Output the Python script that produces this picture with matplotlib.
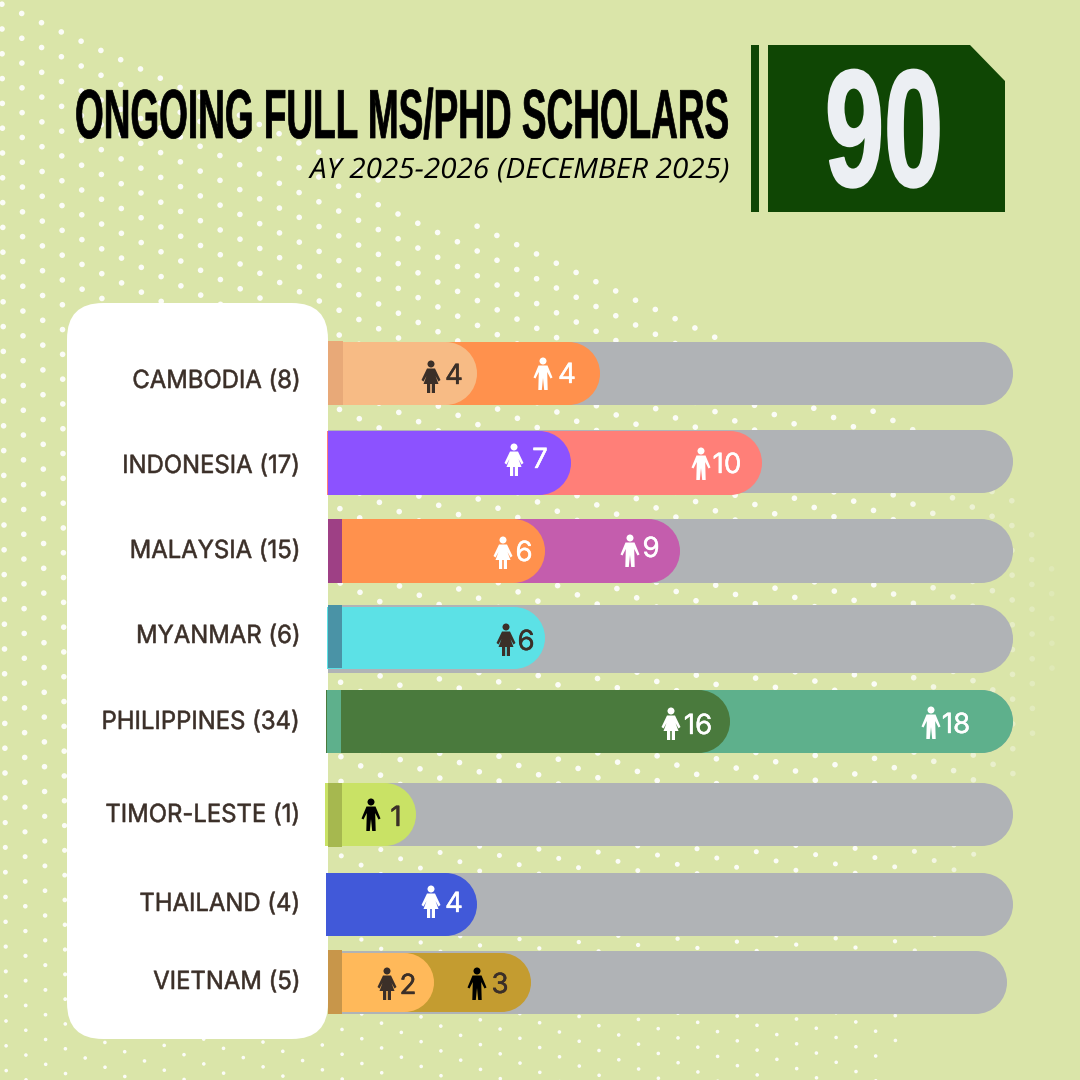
import numpy as np
import matplotlib
matplotlib.use("Agg")
import matplotlib.pyplot as plt
import matplotlib.patheffects as pe
from matplotlib.path import Path
from matplotlib.patches import PathPatch, Polygon, Circle, FancyBboxPatch, Rectangle
from matplotlib.transforms import Affine2D

# data
countries = ["CAMBODIA", "INDONESIA", "MALAYSIA", "MYANMAR", "PHILIPPINES", "TIMOR-LESTE", "THAILAND", "VIETNAM"]
first_counts = [4, 7, 6, 6, 16, 1, 4, 2]
second_counts = [4, 10, 9, 0, 18, 0, 0, 3]
first_gender = ["F", "F", "F", "F", "F", "M", "F", "F"]
second_gender = ["M", "M", "M", "M", "M", "M", "M", "M"]
title = "ONGOING FULL MS/PHD SCHOLARS"
subtitle = "AY 2025-2026 (DECEMBER 2025)"

# bar lengths in the picture are not proportional, so the x axis gets its own scale
scale_counts = np.array([0, 1, 2, 4, 5, 6, 7, 8, 15, 16, 17, 34])
scale_px = np.array([327, 416, 434, 477, 531, 545, 571, 600, 680, 730, 762, 1013])

# colours
BG = "#DAE5A9"
GRAY = "#B0B3B6"
DARK = "#3B2F28"
first_colors = ["#F7BB85", "#8C52FF", "#FF914D", "#5CE1E6", "#4A7A3D", "#C9E265", "#4159D9", "#FFB95A"]
second_colors = ["#FF914D", "#FF7F78", "#C45DAD", None, "#5EB08C", None, None, "#C49C30"]
strip_colors = ["#E8A978", "#FF7F78", "#9E4085", "#4A93A6", "#5EB08C", "#A6B84F", None, "#C8964A"]
first_icon_colors = [DARK, "white", "white", DARK, "white", "black", "white", DARK]
second_icon_colors = ["white", "white", "white", None, "white", None, None, "black"]
first_text_colors = [DARK, "white", "white", DARK, "white", DARK, "white", DARK]
second_text_colors = ["white", "white", "white", None, "white", None, None, DARK]

# layout, pixels from top left
track_top = [342, 430, 519, 605, 690, 783, 873, 951]
track_bot = [405, 493, 583, 673, 753, 846, 936, 1014]
track_end = [1013, 1013, 1013, 1013, 1013, 1013, 1013, 1007]
fill_top = [342, 431, 519, 607, 690, 783, 873, 953]
fill_bot = [405, 495, 583, 669, 753, 846, 936, 1012]
fill_left = [328, 327, 328, 327, 326, 325, 326, 328]
strip_left = [328, 327, 328, 328, 327, 328, 328, 328]
strip_right = [343, 328, 342, 342, 341, 342, 328, 342]
strip_top = [341, 431, 519, 605, 690, 783, 873, 950]
strip_bot = [405, 495, 583, 668, 753, 847, 936, 1014]
label_base = [388, 473, 558, 643, 729, 822, 911, 989]
first_icon_gap = [46, 57, 42, 39, 59, 45, 46, 47]
first_text_gap = [23, 31, 21, 19, 32, 20, 23, 26]
second_icon_gap = [57, 61, 50, 0, 82, 0, 0, 54]
second_text_gap = [33, 35, 29, 0, 57, 0, 0, 31]
first_icon_y = [377, 460, 553, 640, 724, 815, 902, 984]
first_text_y = [374, 458, 551, 640, 724, 816, 902, 984]
second_icon_y = [374, 464, 551, 0, 723, 0, 0, 984]
second_text_y = [373, 463, 547, 0, 723, 0, 0, 983]

plt.rcParams["font.family"] = ["Inter", "DejaVu Sans"]
COND = ["Liberation Sans", "DejaVu Sans"]
SUB = ["Open Sans", "DejaVu Sans"]

fig = plt.figure(figsize=(10.8, 10.8), dpi=100, facecolor=BG)
renderer = fig.canvas.get_renderer()
ax_px = fig.add_axes([0, 0, 1, 1], zorder=0)
ax_px.set_xlim(0, 1080)
ax_px.set_ylim(1080, 0)
ax_px.axis("off")

ax = fig.add_axes([327 / 1080, 0, (1013 - 327) / 1080, 1], zorder=1)
ax.set_xscale("function", functions=(lambda v: np.interp(v, scale_counts, scale_px),
                                     lambda v: np.interp(v, scale_px, scale_counts)))
ax.set_xlim(0, 34)
ax.set_ylim(1080, 0)
ax.axis("off")
ax.patch.set_alpha(0)


class Stretch(pe.AbstractPathEffect):
    # no condensed font here, so the glyphs get squeezed and thickened when drawn
    def __init__(self, x, y, sx, sy=1.0, lw=0.0):
        super().__init__()
        self.x, self.y, self.sx, self.sy, self.lw = x, 1080 - y, sx, sy, lw

    def draw_path(self, renderer, gc, tpath, affine, rgbFace=None):
        tr = affine + Affine2D().translate(-self.x, -self.y).scale(self.sx, self.sy).translate(self.x, self.y)
        gc0 = renderer.new_gc()
        gc0.copy_properties(gc)
        if self.lw > 0:
            gc0.set_foreground(rgbFace)
            gc0.set_linewidth(self.lw)
        else:
            gc0.set_linewidth(0)
        renderer.draw_path(gc0, tpath, tr, rgbFace)
        gc0.restore()


def fit_text(x, y, s, width, height_scale=1.0, lw=0.0, **kw):
    # x,y is the anchor on the baseline, width the wanted width in pixels
    t = ax_px.text(x, y, s, va="baseline", **kw)
    natural = t.get_window_extent(renderer).width
    t.set_path_effects([Stretch(x, y, width / natural, height_scale, lw)])
    return t


def count_px(v):
    return ax.transData.transform((v, 0))[0]


def capsule(target, x0, x1, top, bot, color, z):
    # square on the left, half round on the right
    r = (bot - top) / 2
    k = 0.5523 * r
    mid = (top + bot) / 2
    verts = [(x0, top), (x1 - r, top), (x1 - r + k, top), (x1, mid - k), (x1, mid),
             (x1, mid + k), (x1 - r + k, bot), (x1 - r, bot), (x0, bot), (x0, top)]
    codes = [Path.MOVETO, Path.LINETO, Path.CURVE4, Path.CURVE4, Path.CURVE4,
             Path.CURVE4, Path.CURVE4, Path.CURVE4, Path.LINETO, Path.CLOSEPOLY]
    target.add_patch(PathPatch(Path(verts, codes), fc=color, ec="none", zorder=z,
                               transform=ax_px.transData, clip_on=False))


MALE = [(-4.5, -8.5), (4.5, -8.5), (9.5, 3.5), (7.5, 4.5), (4.2, -2), (4.7, 16), (1.2, 16), (0, 4), (-1.2, 16),
        (-4.7, 16), (-4.2, -2), (-7.5, 4.5), (-9.5, 3.5)]
FEMALE = [(-4, -8.5), (4, -8.5), (9.5, 3), (7.5, 4.5), (4.5, -1), (7.5, 7), (4, 7), (4, 16), (0.8, 16),
          (0.8, 7), (-0.8, 7), (-0.8, 16), (-4, 16), (-4, 7), (-7.5, 7), (-4.5, -1), (-7.5, 4.5), (-9.5, 3)]


def person(cx, cy, gender, color):
    shape = MALE if gender == "M" else FEMALE
    pts = [(cx + a, cy + b) for a, b in shape]
    ax.add_patch(Polygon(pts, closed=True, fc=color, ec="none", zorder=8,
                         transform=ax_px.transData, clip_on=False))
    ax.add_patch(Circle((cx, cy - 13), 3.5, fc=color, ec="none", zorder=8,
                        transform=ax_px.transData, clip_on=False))


# halftone dots behind everything
blob = Path([(-5, -5), (21, 8), (180, 82), (440, 210), (616, 282), (716, 332), (840, 385), (940, 425),
             (1010, 490), (1065, 570), (1065, 660), (1010, 790), (965, 870), (905, 1020), (875, 1085),
             (-5, 1085)])
ii, jj = np.meshgrid(np.arange(-60, 60), np.arange(-60, 80))
dot_x = 2 + 19.8 * ii + 0.1 * jj
dot_y = 29 + 9.25 * ii + 24.8 * jj
keep = blob.contains_points(np.c_[dot_x.ravel(), dot_y.ravel()])
dot_x = dot_x.ravel()[keep]
dot_y = dot_y.ravel()[keep]
dot_d = 5.6 - 2.0 * np.clip((dot_y - 780) / 250, 0, 1)
dot_a = 0.92 - 0.8 * np.clip((dot_x - 880) / 180, 0, 1)
dot_col = np.ones((len(dot_x), 4))
dot_col[:, 3] = dot_a
ax_px.scatter(dot_x, dot_y, s=(dot_d * 0.72) ** 2, c=dot_col, linewidths=0, zorder=1)

# header
fit_text(75, 138, title, 653, height_scale=50 / 30, lw=0.5, family=COND, weight="bold", fontsize=30,
         color="black", ha="left", zorder=3)
fit_text(728, 178, subtitle, 418, family=SUB, style="italic", fontsize=20.2, color="black", ha="right", zorder=3)
ax_px.add_patch(Rectangle((751, 45), 8, 167, fc="#0F4604", ec="none", zorder=3))
ax_px.add_patch(Polygon([(768, 45), (970, 45), (1005, 81), (1005, 212), (768, 212)], closed=True,
                        fc="#0F4604", ec="none", zorder=3))
total = sum(first_counts) + sum(second_counts)
fit_text(884, 186, str(total), 118, height_scale=120 / 60, lw=1.5, family=COND, weight="bold", fontsize=60,
         color="#ECEFF3", ha="center", zorder=4)

# white panel with the country names
ax_px.add_patch(FancyBboxPatch((67 + 36, 303 + 36), 261 - 72, 736 - 72, boxstyle="round,pad=36",
                               fc="white", ec="none", zorder=2))

for i, name in enumerate(countries):
    n1 = first_counts[i]
    n2 = second_counts[i]
    label = ax_px.text(301, label_base[i], f"{name} ({n1 + n2})", fontsize=18, color=DARK,
                       ha="right", va="baseline", zorder=5)
    label.set_path_effects([Stretch(301, label_base[i], 0.955, 1.0, 0.4)])

    capsule(ax_px, 328, track_end[i], track_top[i], track_bot[i], GRAY, 3)

    end1 = count_px(n1)
    end2 = count_px(n1 + n2)
    if n2 > 0:
        capsule(ax, fill_left[i], end2, fill_top[i], fill_bot[i], second_colors[i], 4)
    capsule(ax, fill_left[i], end1, fill_top[i], fill_bot[i], first_colors[i], 5)

    if strip_colors[i] is not None and strip_right[i] > strip_left[i]:
        ax.add_patch(Rectangle((strip_left[i], strip_top[i]), strip_right[i] - strip_left[i],
                               strip_bot[i] - strip_top[i], fc=strip_colors[i], ec="none", zorder=6,
                               transform=ax_px.transData, clip_on=False))

    person(end1 - first_icon_gap[i], first_icon_y[i], first_gender[i], first_icon_colors[i])
    num = ax.text(end1 - first_text_gap[i], first_text_y[i] + 10, str(n1), fontsize=20, color=first_text_colors[i],
                  ha="center", va="baseline", zorder=8, transform=ax_px.transData)
    num.set_path_effects([pe.Stroke(linewidth=0.3, foreground=first_text_colors[i]), pe.Normal()])
    if n2 > 0:
        person(end2 - second_icon_gap[i], second_icon_y[i], second_gender[i], second_icon_colors[i])
        num = ax.text(end2 - second_text_gap[i], second_text_y[i] + 10, str(n2), fontsize=20, color=second_text_colors[i],
                      ha="center", va="baseline", zorder=8, transform=ax_px.transData)
        num.set_path_effects([pe.Stroke(linewidth=0.3, foreground=second_text_colors[i]), pe.Normal()])

fig.savefig("out.png", dpi=100, facecolor=BG)
